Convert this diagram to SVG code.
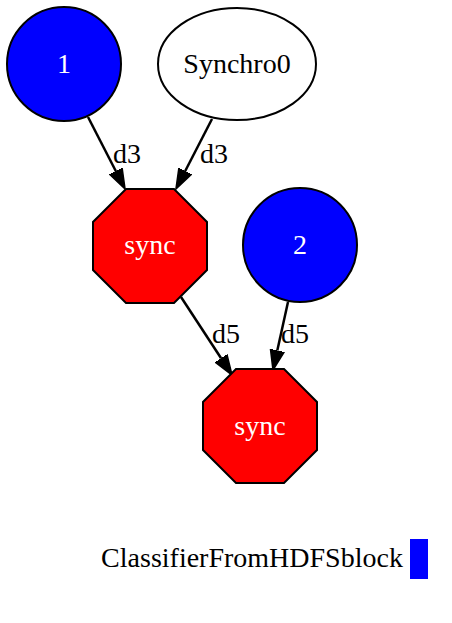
<svg xmlns="http://www.w3.org/2000/svg" width="452" height="623" viewBox="0 0 452 623">
<style>
text{font-family:'Liberation Serif','Times New Roman','DejaVu Serif',serif;font-size:28px;text-anchor:middle}
.w{fill:#fff}
.b{fill:#000}
.blue{fill:#0000ff;stroke:#000;stroke-width:2}
.red{fill:#ff0000;stroke:#000;stroke-width:2}
.edge{stroke:#000;stroke-width:2.5;fill:none}
</style>
<defs>
<marker id="ah" markerUnits="userSpaceOnUse" markerWidth="22" markerHeight="16" viewBox="0 -8 22 16" refX="0" refY="0" orient="auto">
<path d="M0,-7 L20,0 L0,7 z" fill="#000" stroke="#000" stroke-width="1.5"/>
</marker>
</defs>
<rect width="452" height="623" fill="#fff"/>
<g id="edges">
<line class="edge" x1="88" y1="117" x2="115.9" y2="171.2" marker-end="url(#ah)"/>
<text class="b" x="127" y="163" font-family="Liberation Serif, serif">d3</text>
<line class="edge" x1="212" y1="119" x2="185.1" y2="171.2" marker-end="url(#ah)"/>
<text class="b" x="214" y="163" font-family="Liberation Serif, serif">d3</text>
<line class="edge" x1="181" y1="297" x2="221.1" y2="358.3" marker-end="url(#ah)"/>
<text class="b" x="226" y="343" font-family="Liberation Serif, serif">d5</text>
<line class="edge" x1="288" y1="302" x2="277.3" y2="350.5" marker-end="url(#ah)"/>
<text class="b" x="295" y="343" font-family="Liberation Serif, serif">d5</text>
</g>
<g id="n1">
<circle class="blue" cx="64" cy="64" r="57"/>
<text class="w" x="64" y="73" font-family="Liberation Serif, serif">1</text>
</g>
<g id="synchro0">
<ellipse cx="237" cy="64" rx="79" ry="56" fill="#fff" stroke="#000" stroke-width="2"/>
<text class="b" x="237" y="73" font-family="Liberation Serif, serif">Synchro0</text>
</g>
<g id="sync1">
<polygon class="red" points="126,189 174,189 207,222 207,270 174,303 126,303 93,270 93,222"/>
<text class="w" x="150" y="254" font-family="Liberation Serif, serif">sync</text>
</g>
<g id="n2">
<circle class="blue" cx="300" cy="245" r="57"/>
<text class="w" x="300" y="254" font-family="Liberation Serif, serif">2</text>
</g>
<g id="sync2">
<polygon class="red" points="236,369 284,369 317,402 317,450 284,483 236,483 203,450 203,402"/>
<text class="w" x="260" y="435" font-family="Liberation Serif, serif">sync</text>
</g>
<g id="legend">
<text class="b" x="252" y="567" font-family="Liberation Serif, serif">ClassifierFromHDFSblock</text>
<rect x="410" y="539" width="18" height="40" fill="#0000ff"/>
</g>
</svg>
